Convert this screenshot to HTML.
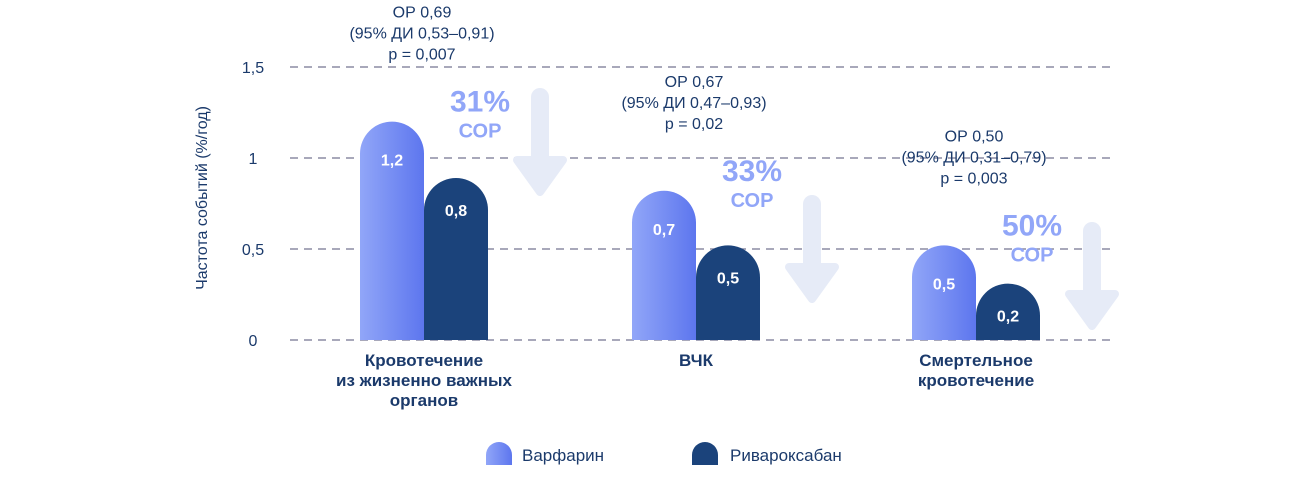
<!DOCTYPE html>
<html><head><meta charset="utf-8"><style>
body{margin:0;background:#fff;}
svg{display:block;font-family:"Liberation Sans",sans-serif;}
</style></head><body>
<svg id="chart" width="1316" height="485"></svg>
<script>
const categories=[["Кровотечение","из жизненно важных","органов"],["ВЧК"],["Смертельное","кровотечение"]];
const warfarinValues=[1.2,0.82,0.52];
const rivaroxabanValues=[0.89,0.52,0.31];
const warfarinLabels=["1,2","0,7","0,5"];
const rivaroxabanLabels=["0,8","0,5","0,2"];
const reductionLabels=["31%","33%","50%"];
const statLines=[["ОР 0,69","(95% ДИ 0,53–0,91)","p = 0,007"],["ОР 0,67","(95% ДИ 0,47–0,93)","p = 0,02"],["ОР 0,50","(95% ДИ 0,31–0,79)","p = 0,003"]];
const yTicks=[0,0.5,1,1.5];
const yTickLabels=["0","0,5","1","1,5"];

const NS="http://www.w3.org/2000/svg";
const svg=document.getElementById('chart');
function mk(tag,attrs,parent){const e=document.createElementNS(NS,tag);for(const k in attrs)e.setAttribute(k,attrs[k]);(parent||svg).appendChild(e);return e;}
const y0=340,unit=182;
function yScale(v){return y0-v*unit;}
const groupX=[360,632,912];
function xScale(i){return groupX[i];}
const bw=64;

const defs=mk('defs',{});
const lg=mk('linearGradient',{id:'wg',x1:'0',x2:'1',y1:'0',y2:'0'},defs);
mk('stop',{offset:'0','stop-color':'#91a6f8'},lg);
mk('stop',{offset:'1','stop-color':'#5d76ee'},lg);

// grid
yTicks.forEach((t,i)=>{
  const l=mk('line',{x1:290,x2:1115,y1:yScale(t),y2:yScale(t),stroke:'#8c8ca3','stroke-width':1.5,'stroke-dasharray':'8 6'});
  
  
  const tx=mk('text',{x:253,y:yScale(t)+6,'text-anchor':'middle','font-size':16,fill:'#1b3a6b'});
  tx.textContent=yTickLabels[i];
  
  
});
const yt=mk('text',{x:0,y:0,transform:'translate(207,198) rotate(-90)','text-anchor':'middle','font-size':16,fill:'#1b3a6b'});
yt.textContent='Частота событий (%/год)';



function barPath(x,top){const r=bw/2;return `M${x},${y0} L${x},${top+r} A${r},${r} 0 0 1 ${x+bw},${top+r} L${x+bw},${y0} Z`;}
const arrowTop=[88,195,222];
categories.forEach((cat,i)=>{
  const x=xScale(i);
  const wt=yScale(warfarinValues[i]),rt=yScale(rivaroxabanValues[i]);
  const b1=mk('path',{d:barPath(x,wt),fill:'url(#wg)'});
  
  
  const b2=mk('path',{d:barPath(x+bw,rt),fill:'#1b437b'});
  
  
  const l1=mk('text',{x:x+bw/2,y:wt+44,'text-anchor':'middle','font-size':16,'font-weight':'bold',fill:'#fff'});l1.textContent=warfarinLabels[i];
  
  
  const l2=mk('text',{x:x+bw*1.5,y:rt+38,'text-anchor':'middle','font-size':16,'font-weight':'bold',fill:'#fff'});l2.textContent=rivaroxabanLabels[i];
  
  
  // category label
  cat.forEach((ln,j)=>{const t=mk('text',{x:x+bw,y:366+j*20,'text-anchor':'middle','font-size':17,'font-weight':'bold',fill:'#1b3a6b'});t.textContent=ln;
    
    });
  // reduction
  const rx=x+bw*2+4;
  const rp=mk('text',{x:rx-12,y:wt-10,'text-anchor':'middle','font-size':30,'font-weight':'bold',fill:'#91a6f8'});rp.textContent=reductionLabels[i];
  
  
  const rs=mk('text',{x:rx-12,y:wt+16,'text-anchor':'middle','font-size':20,'font-weight':'bold',fill:'#91a6f8'});rs.textContent='СОР';
  
  
  // stats
  statLines[i].forEach((ln,j)=>{const t=mk('text',{x:rx-70,y:wt-104+j*21,'text-anchor':'middle','font-size':16,fill:'#1b3a6b'});t.textContent=ln;
    
    });
  // arrow
  const ax=x+bw*2+52,at=arrowTop[i];
  const g=mk('g',{fill:'#e6ebf7',stroke:'#e6ebf7','stroke-linejoin':'round'});
  
  
  mk('line',{x1:ax,x2:ax,y1:at+9,y2:at+75,'stroke-width':18,'stroke-linecap':'round'},g);
  mk('polygon',{points:`${ax-23},${at+72} ${ax+23},${at+72} ${ax},${at+104}`,'stroke-width':8},g);
});
// legend
const lg1=mk('path',{d:'M486,465 L486,455 A13,13 0 0 1 512,455 L512,465 Z',fill:'url(#wg)'});


const lt1=mk('text',{x:522,y:461,'font-size':17,fill:'#1b3a6b'});lt1.textContent='Варфарин';


const lg2=mk('path',{d:'M692,465 L692,455 A13,13 0 0 1 718,455 L718,465 Z',fill:'#1b437b'});


const lt2=mk('text',{x:730,y:461,'font-size':17,fill:'#1b3a6b'});lt2.textContent='Ривароксабан';


</script>
</body></html>
